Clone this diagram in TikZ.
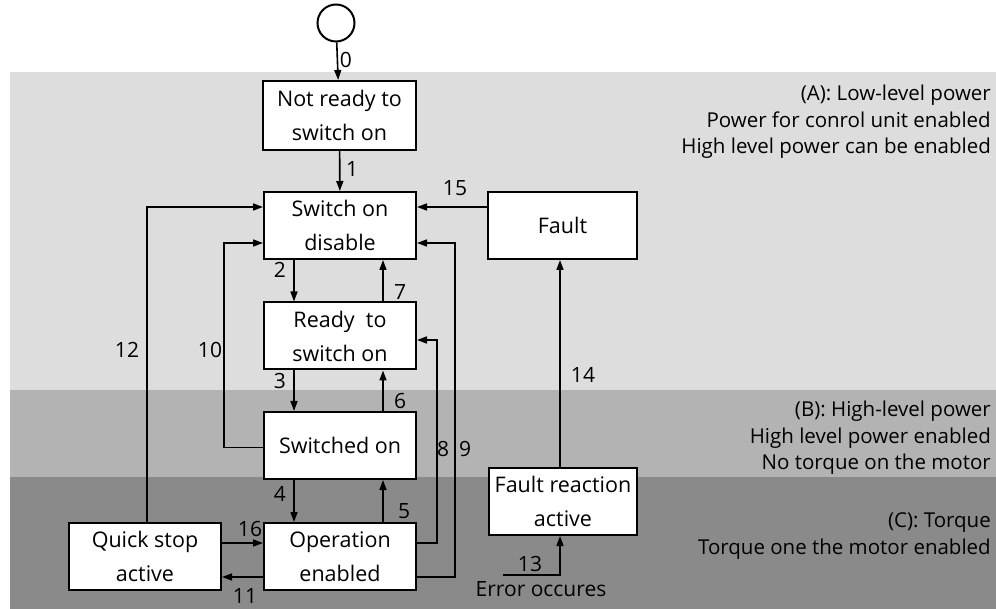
\documentclass[tikz,border=0pt]{standalone}
\usepackage{fontspec}
\setmainfont{Open Sans}
\usetikzlibrary{arrows.meta}
\begin{document}
\begin{tikzpicture}[x=1pt,y=-1pt,
  every node/.style={font=\fontsize{21.5}{34}\selectfont, inner sep=0pt},
  state/.style={draw, fill=white, line width=2pt, minimum width=152pt, minimum height=67pt, align=center},
  arr/.style={line width=1.6pt, -{Triangle[length=10pt,width=7pt]}},
  lbl/.style={font=\fontsize{21}{24}\selectfont},
  side/.style={font=\fontsize{20.5}{26.5}\selectfont, align=right, anchor=east}]
\useasboundingbox (0,0) rectangle (996,609);
% bands
\fill[fill={rgb,255:red,221;green,221;blue,221}] (10,72) rectangle (996,390);
\fill[fill={rgb,255:red,179;green,179;blue,179}] (10,390) rectangle (996,477);
\fill[fill={rgb,255:red,138;green,138;blue,138}] (10,477) rectangle (996,609);
% nodes
\node[circle, draw, line width=2pt, minimum size=37pt] (start) at (336,23) {};
\node[state, minimum width=153pt, minimum height=69pt] (nr) at (339.5,115.5) {Not ready to\\switch on};
\node[state] (sod) at (340,225.5) {Switch on\\disable};
\node[state] (rtso) at (340,336) {Ready\ \ to\\switch on};
\node[state] (so) at (340,445.5) {Switched on};
\node[state] (oe) at (340,556.5) {Operation\\enabled};
\node[state] (qsa) at (145,556.5) {Quick stop\\active};
\node[state, minimum width=149pt] (fault) at (562.5,225.5) {Fault};
\node[state, minimum width=148pt] (fra) at (563,501.5) {Fault reaction\\active};
\coordinate (err) at (503,575);
% connectors
\draw[arr] (start) -- (nr);
\draw[arr] (nr) -- (sod);
\draw[arr] ([xshift=-46pt]sod.south) -- ([xshift=-46pt]rtso.north);
\draw[arr] ([xshift=43pt]rtso.north) -- ([xshift=43pt]sod.south);
\draw[arr] ([xshift=-46pt]rtso.south) -- ([xshift=-46pt]so.north);
\draw[arr] ([xshift=43pt]so.north) -- ([xshift=43pt]rtso.south);
\draw[arr] ([xshift=-46pt]so.south) -- ([xshift=-46pt]oe.north);
\draw[arr] ([xshift=43pt]oe.north) -- ([xshift=43pt]so.south);
\draw[arr] ([yshift=-2pt]so.west) -- ++(-39,0) |- ([yshift=-17.5pt]sod.west);
\draw[arr] ([xshift=2pt]qsa.north) |- ([yshift=18.5pt]sod.west);
\draw[arr] ([yshift=18.5pt]fault.west) -- ([yshift=18.5pt]sod.east);
\draw[arr] ([yshift=-20.5pt]oe.east) -- ++(38,0) |- ([yshift=-17.5pt]sod.east);
\draw[arr] ([yshift=13.5pt]oe.east) -- ++(20,0) |- ([yshift=-4pt]rtso.east);
\draw[arr] ([yshift=13.5pt]qsa.east) -- ([yshift=13.5pt]oe.west);
\draw[arr] ([yshift=-20.5pt]oe.west) -- ([yshift=-20.5pt]qsa.east);
\draw[arr] ([xshift=-3pt]fra.north) -- ([xshift=-2.5pt]fault.south);
\draw[arr] (err) -| ([xshift=-3pt]fra.south);
% labels
\node[lbl] (l0) at (346,60) {0};
\node[lbl] (l1) at (352,169) {1};
\node[lbl] (l2) at (280,270) {2};
\node[lbl] (l7) at (400,292) {7};
\node[lbl] (l3) at (280,381) {3};
\node[lbl] (l6) at (400,401) {6};
\node[lbl] (l4) at (280,494) {4};
\node[lbl] (l5) at (404,511) {5};
\node[lbl] (l10) at (210,350) {10};
\node[lbl] (l12) at (127,350) {12};
\node[lbl] (l15) at (455,188) {15};
\node[lbl] (l8) at (443,449) {8};
\node[lbl] (l9) at (465,449) {9};
\node[lbl] (l16) at (250,529) {16};
\node[lbl] (l11) at (245,596) {11};
\node[lbl] (l14) at (583,375) {14};
\node[lbl] (l13) at (530,564) {13};
\node[lbl] (lerr) at (541,589) {Error occures};
% side texts
\node[side] (ta) at (991,122) {(A): Low-level power\\Power for conrol unit enabled\\High level power can be enabled};
\node[side] (tb) at (991,438) {(B): High-level power\\High level power enabled\\No torque on the motor};
\node[side] (tc) at (991,536) {(C): Torque\\Torque one the motor enabled};
\end{tikzpicture}
\end{document}
